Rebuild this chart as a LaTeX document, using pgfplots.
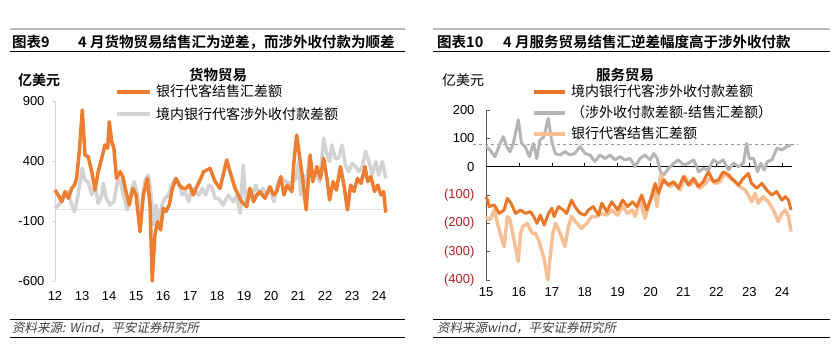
\documentclass[border=0pt]{standalone}
\usepackage{fontspec}
\usepackage{pgfplots}
\pgfplotsset{compat=1.18}
\setmainfont{Liberation Sans}
\newfontfamily\cjk[BoldFont={Noto Sans CJK SC Bold}]{Noto Sans CJK SC}
\newfontfamily\cjkit[FakeSlant=0.2]{Noto Sans CJK SC}
\definecolor{orL}{HTML}{ED7D31}
\definecolor{grL}{HTML}{D3D3D3}
\definecolor{orD}{HTML}{E8772A}
\definecolor{orLt}{HTML}{F6C096}
\definecolor{grR}{HTML}{B5B5B5}
\definecolor{negred}{HTML}{B22222}
\definecolor{foot}{HTML}{404040}

\pgfplotstableread{
x y
2012.00 158
2012.12 117
2012.25 61
2012.37 145
2012.49 89
2012.62 172
2012.72 200
2012.80 255
2012.90 478
2013.01 825
2013.11 450
2013.23 436
2013.36 311
2013.48 158
2013.60 311
2013.73 422
2013.85 534
2013.95 506
2014.01 728
2014.10 561
2014.18 506
2014.28 255
2014.41 311
2014.51 270
2014.63 145
2014.75 33
2014.88 172
2015.00 117
2015.15 -190
2015.27 117
2015.42 255
2015.52 33
2015.60 -600
2015.70 -217
2015.79 -106
2015.91 -175
2016.01 6
2016.11 -22
2016.23 33
2016.35 172
2016.48 255
2016.60 200
2016.73 172
2016.85 172
2016.98 200
2017.12 117
2017.25 186
2017.40 255
2017.50 311
2017.62 325
2017.74 339
2017.93 228
2018.11 172
2018.36 409
2018.48 311
2018.67 172
2018.91 61
2019.10 19
2019.22 172
2019.35 61
2019.47 117
2019.59 145
2019.78 89
2019.96 186
2020.09 117
2020.21 145
2020.36 270
2020.48 117
2020.60 200
2020.77 145
2020.85 395
2020.95 617
2021.05 450
2021.17 255
2021.30 -8
2021.45 450
2021.55 228
2021.70 353
2021.83 255
2021.95 422
2022.07 255
2022.17 75
2022.30 228
2022.42 158
2022.57 353
2022.70 200
2022.83 -8
2022.95 200
2023.07 145
2023.20 255
2023.33 214
2023.48 353
2023.58 228
2023.70 270
2023.83 145
2023.95 200
2024.07 117
2024.17 145
2024.25 -30
}\goodsFX

\pgfplotstableread{
x y
2012.00 6
2012.12 33
2012.25 61
2012.37 117
2012.49 145
2012.62 33
2012.72 -22
2012.83 89
2012.93 228
2013.01 340
2013.11 242
2013.23 228
2013.36 117
2013.48 200
2013.60 47
2013.73 117
2013.79 214
2013.90 89
2014.04 33
2014.18 61
2014.31 228
2014.41 242
2014.53 117
2014.68 -8
2014.80 117
2014.93 228
2015.05 117
2015.17 -78
2015.33 228
2015.46 283
2015.56 117
2015.64 -133
2015.74 33
2015.83 -106
2015.96 33
2016.07 89
2016.20 117
2016.33 200
2016.46 255
2016.58 228
2016.70 117
2016.83 145
2016.95 61
2017.07 172
2017.20 145
2017.33 117
2017.46 172
2017.58 117
2017.70 200
2017.80 186
2017.93 89
2018.05 89
2018.23 33
2018.42 117
2018.60 61
2018.73 117
2018.85 -36
2018.97 367
2019.07 33
2019.20 172
2019.32 117
2019.44 200
2019.57 117
2019.69 172
2019.84 117
2019.96 172
2020.11 61
2020.27 228
2020.40 255
2020.56 228
2020.70 214
2020.83 228
2020.93 255
2021.02 395
2021.10 117
2021.20 283
2021.32 214
2021.42 436
2021.55 255
2021.67 311
2021.80 228
2021.95 589
2022.04 478
2022.17 395
2022.25 534
2022.38 422
2022.50 422
2022.63 534
2022.75 367
2022.88 311
2023.00 380
2023.13 353
2023.25 311
2023.38 353
2023.50 478
2023.63 395
2023.75 283
2023.88 395
2023.99 283
2024.12 395
2024.25 255
}\goodsCB

\pgfplotstableread{
x y
2015.00 -106
2015.05 -118
2015.10 -141
2015.25 -135
2015.40 -165
2015.55 -153
2015.65 -112
2015.76 -129
2015.90 -165
2016.05 -153
2016.20 -165
2016.35 -159
2016.45 -176
2016.55 -200
2016.65 -171
2016.77 -206
2016.90 -165
2017.00 -147
2017.07 -176
2017.20 -141
2017.35 -153
2017.45 -165
2017.60 -118
2017.70 -141
2017.86 -165
2018.01 -171
2018.11 -153
2018.26 -141
2018.42 -171
2018.52 -129
2018.67 -159
2018.82 -124
2019.00 -153
2019.15 -118
2019.30 -141
2019.45 -124
2019.58 -141
2019.73 -100
2019.88 -153
2020.04 -106
2020.14 -59
2020.24 -94
2020.39 -47
2020.54 -65
2020.69 -53
2020.85 -76
2021.00 -35
2021.15 -65
2021.30 -41
2021.45 -71
2021.60 -53
2021.76 -18
2021.91 -53
2022.06 -47
2022.21 -18
2022.37 -29
2022.52 -47
2022.67 -65
2022.82 -41
2022.97 -24
2023.07 -59
2023.23 -76
2023.38 -59
2023.53 -82
2023.68 -100
2023.83 -88
2023.99 -118
2024.09 -106
2024.19 -118
2024.27 -153
}\servCB

\pgfplotstableread{
x y
2015.00 -176
2015.08 -188
2015.15 -182
2015.25 -153
2015.35 -200
2015.55 -282
2015.65 -176
2015.73 -188
2015.98 -335
2016.05 -235
2016.12 -212
2016.25 -200
2016.40 -235
2016.50 -235
2016.60 -259
2016.75 -318
2016.88 -400
2016.95 -318
2017.03 -235
2017.12 -200
2017.25 -235
2017.40 -282
2017.50 -212
2017.60 -176
2017.76 -200
2017.90 -218
2018.06 -200
2018.21 -176
2018.36 -176
2018.52 -165
2018.67 -171
2018.82 -153
2019.00 -171
2019.15 -141
2019.30 -165
2019.45 -153
2019.53 -176
2019.68 -118
2019.83 -182
2019.99 -118
2020.10 -71
2020.20 -141
2020.30 -29
2020.45 -53
2020.60 -71
2020.75 -59
2020.90 -82
2021.05 -35
2021.20 -65
2021.35 -47
2021.50 -76
2021.66 -59
2021.81 -41
2021.96 -59
2022.11 -53
2022.26 -24
2022.42 -41
2022.57 -53
2022.72 -71
2022.87 -82
2022.97 -100
2023.07 -124
2023.17 -94
2023.27 -129
2023.42 -106
2023.58 -124
2023.73 -153
2023.88 -194
2023.99 -165
2024.09 -153
2024.19 -176
2024.27 -229
}\servFX

\pgfplotstableread{
x y
2015.00 71
2015.12 59
2015.27 35
2015.43 82
2015.53 106
2015.63 71
2015.73 53
2015.83 82
2015.98 165
2016.08 82
2016.19 71
2016.32 35
2016.44 82
2016.54 29
2016.64 94
2016.76 106
2016.89 170
2016.99 94
2017.10 47
2017.25 41
2017.40 53
2017.55 41
2017.70 47
2017.86 71
2018.01 47
2018.16 41
2018.31 18
2018.46 41
2018.62 29
2018.77 41
2018.92 24
2019.07 35
2019.22 24
2019.38 29
2019.53 0
2019.68 29
2019.83 41
2019.99 24
2020.10 47
2020.20 29
2020.30 -18
2020.40 -29
2020.55 -6
2020.70 12
2020.85 24
2021.00 6
2021.15 12
2021.31 24
2021.46 -18
2021.61 -6
2021.76 -12
2021.91 24
2022.06 12
2022.21 24
2022.37 -12
2022.52 12
2022.67 0
2022.82 12
2022.92 82
2023.00 29
2023.13 29
2023.25 -18
2023.35 12
2023.45 -12
2023.55 18
2023.69 24
2023.84 65
2023.99 59
2024.14 71
2024.27 76
}\servDiff

\begin{document}
\begin{tikzpicture}[x=1pt,y=1pt]
\path[use as bounding box] (0pt,0pt) rectangle (839pt,351pt);

% ---------- headers ----------
\draw[gray!55, line width=1.6pt] (10pt,322pt) -- (405pt,322pt);
\draw[black, line width=0.8pt] (10pt,300pt) -- (405pt,300pt);
\node[anchor=west, inner sep=0pt] at (12pt,309pt) {\cjk\bfseries\fontsize{14.5}{16}\selectfont 图表9};
\node[anchor=west, inner sep=0pt] at (78pt,309pt) {\cjk\bfseries\fontsize{14.5}{16}\selectfont 4 月货物贸易结售汇为逆差，而涉外收付款为顺差};
\draw[gray!55, line width=1.6pt] (433pt,322pt) -- (830pt,322pt);
\draw[black, line width=0.8pt] (433pt,300pt) -- (830pt,300pt);
\node[anchor=west, inner sep=0pt] at (437pt,309pt) {\cjk\bfseries\fontsize{14.5}{16}\selectfont 图表10};
\node[anchor=west, inner sep=0pt] at (503pt,309pt) {\cjk\bfseries\fontsize{14.5}{16}\selectfont 4 月服务贸易结售汇逆差幅度高于涉外收付款};

% ---------- footers ----------
\draw[black, line width=0.7pt] (10pt,32pt) -- (405pt,32pt);
\draw[black, line width=0.7pt] (10pt,14pt) -- (405pt,14pt);
\node[anchor=west, inner sep=0pt, text=foot] at (12pt,23pt) {\cjkit\fontsize{12.5}{14}\selectfont 资料来源: Wind，平安证券研究所};
\draw[black, line width=0.7pt] (433pt,32pt) -- (830pt,32pt);
\draw[black, line width=0.7pt] (433pt,14pt) -- (830pt,14pt);
\node[anchor=west, inner sep=0pt, text=foot] at (437pt,23pt) {\cjkit\fontsize{12.5}{14}\selectfont 资料来源wind，平安证券研究所};

% ---------- panel titles / units ----------
\node[anchor=west, inner sep=0pt] at (18pt,271pt) {\cjk\bfseries\fontsize{14}{16}\selectfont 亿美元};
\node[inner sep=0pt] at (218pt,276pt) {\cjk\bfseries\fontsize{14.5}{16}\selectfont 货物贸易};
\node[anchor=west, inner sep=0pt] at (442pt,271pt) {\cjk\fontsize{14}{16}\selectfont 亿美元};
\node[inner sep=0pt] at (625pt,276pt) {\cjk\bfseries\fontsize{14.5}{16}\selectfont 服务贸易};

% ---------- left axis ----------
\begin{axis}[
  at={(55pt,70pt)}, anchor=south west, scale only axis,
  width=337pt, height=180pt,
  xmin=2012, xmax=2024.48, ymin=-600, ymax=900,
  axis y line*=left, axis x line*=bottom,
  x axis line style={draw=none},
  y axis line style={draw=grL, line width=0.8pt},
  xtick={2012,2013,2014,2015,2016,2017,2018,2019,2020,2021,2022,2023,2024},
  xticklabels={12,13,14,15,16,17,18,19,20,21,22,23,24},
  ytick={-600,-100,400,900}, yticklabels={-600,-100,400,900},
  major x tick style={draw=none},
  ytick style={draw=grL, line width=0.6pt},
  tick align=outside, major tick length=3pt,
  tick label style={font=\fontsize{13}{15}\selectfont},
  xticklabel style={yshift=-4pt},
  yticklabel style={xshift=-4pt},
  clip=false,
  legend image code/.code={\draw[#1] (0pt,0pt) -- (33pt,0pt);},
  legend style={draw=none, fill=none, inner sep=0pt, row sep=5pt,
    column sep=2pt, cells={anchor=west},
    font=\cjk\fontsize{14}{16}\selectfont,
    at={(axis description cs:0.178,0.989)}, anchor=west},
]
\addlegendimage{orL, line width=4pt}
\addlegendentry{银行代客结售汇差额}
\addlegendimage{grL, line width=4pt}
\addlegendentry{境内银行代客涉外收付款差额}
\addplot[grL!70!white, line width=0.8pt, forget plot] coordinates {(2012,0) (2024.41,0)};
\addplot[grL, line width=3.5pt, line join=round, forget plot] table {\goodsCB};
\addplot[orL, line width=3.5pt, line join=round, forget plot] table {\goodsFX};
\end{axis}

% ---------- right axis ----------
\begin{axis}[
  at={(486pt,71pt)}, anchor=south west, scale only axis,
  width=311pt, height=170pt,
  xmin=2015, xmax=2024.45, ymin=-400, ymax=200,
  axis y line*=left, axis x line*=bottom,
  x axis line style={draw=none},
  y axis line style={draw=black!65, line width=0.7pt},
  xtick={2015,2016,2017,2018,2019,2020,2021,2022,2023,2024},
  xticklabels={15,16,17,18,19,20,21,22,23,24},
  ytick={-400,-300,-200,-100,0,100,200},
  yticklabels={\textcolor{negred}{(400)},\textcolor{negred}{(300)},\textcolor{negred}{(200)},\textcolor{negred}{(100)},0,100,200},
  major x tick style={draw=none},
  ytick style={draw=black!65, line width=0.6pt},
  ytick align=inside, major tick length=4pt,
  tick label style={font=\fontsize{13}{15}\selectfont},
  xticklabel style={yshift=-4pt},
  yticklabel style={xshift=-8pt},
  clip=false,
  legend image code/.code={\draw[#1] (0pt,0pt) -- (31pt,0pt);},
  legend style={draw=none, fill=none, inner sep=0pt, row sep=3.5pt,
    column sep=2pt, cells={anchor=west},
    font=\cjk\fontsize{14}{16}\selectfont,
    at={(axis description cs:0.148,0.984)}, anchor=west},
]
\addlegendimage{orD, line width=4pt}
\addlegendentry{境内银行代客涉外收付款差额}
\addlegendimage{grR, line width=4pt}
\addlegendentry{（涉外收付款差额-结售汇差额）}
\addlegendimage{orLt, line width=4pt}
\addlegendentry{银行代客结售汇差额}
\addplot[gray!80, dashed, line width=0.6pt, forget plot] coordinates {(2014.6,78) (2024.45,78)};
\addplot[black, line width=0.7pt, forget plot] coordinates {(2015,0) (2024.3,0)};
\pgfplotsinvokeforeach{2016,2017,2018,2019,2020,2021,2022,2023,2024}{
  \draw[black, line width=0.6pt] (axis cs:#1,0) -- ++(0pt,4pt);
}
\addplot[grR, line width=3pt, line join=round, forget plot] table {\servDiff};
\addplot[orLt, line width=3.5pt, line join=round, forget plot] table {\servFX};
\addplot[orD, line width=3pt, line join=round, forget plot] table {\servCB};
\end{axis}
\end{tikzpicture}
\end{document}
